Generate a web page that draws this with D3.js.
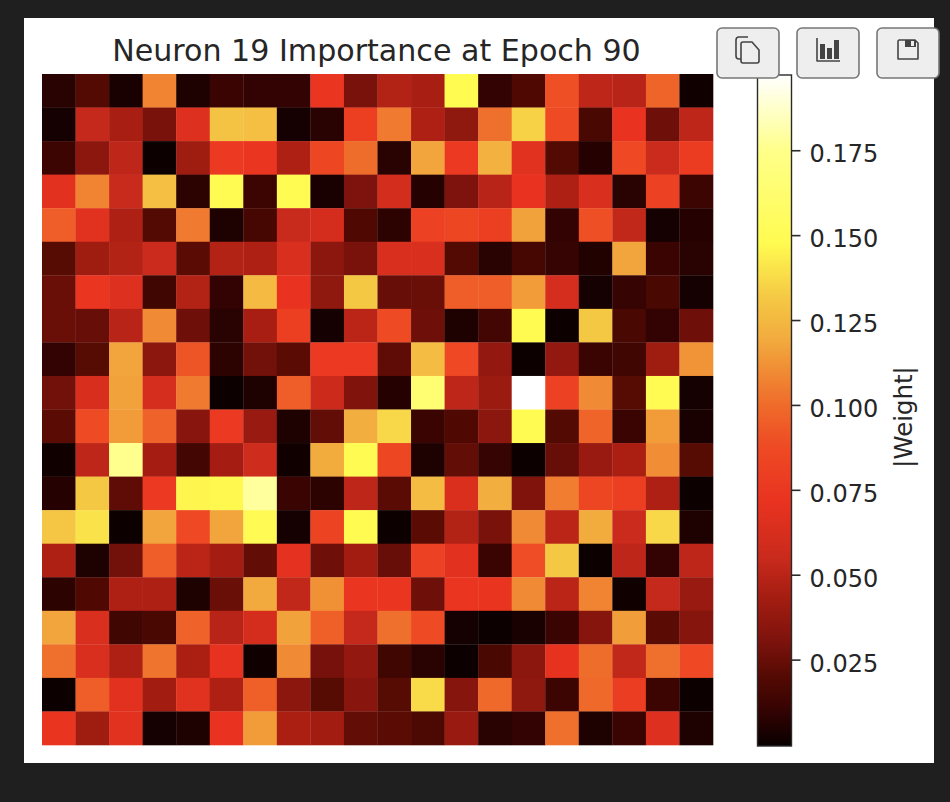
<!DOCTYPE html>
<html>
<head>
<meta charset="utf-8">
<script src="https://cdn.jsdelivr.net/npm/d3@7/dist/d3.min.js"></script>
<style>
html,body{margin:0;padding:0;background:#1f1f1f;overflow:hidden}
svg{display:block}
text{font-family:"DejaVu Sans",sans-serif;fill:#262626}
</style>
</head>
<body>
<svg id="c" width="950" height="802"></svg>
<script>
const chartTitle = "Neuron 19 Importance at Epoch 90";
const colorbarLabel = "|Weight|";
const colorbarTicks = [0.025,0.05,0.075,0.1,0.125,0.15,0.175];
const weightMax = 0.1976;

const row00=[.008,.02,.004,.108,.005,.012,.01,.01,.074,.03,.048,.045,.148,.01,.019,.09,.052,.05,.098,.002];
const row01=[.003,.054,.045,.03,.066,.13,.128,.003,.008,.08,.105,.047,.037,.102,.135,.088,.017,.072,.027,.052];
const row02=[.013,.036,.052,.001,.042,.077,.074,.047,.085,.101,.008,.118,.077,.122,.068,.02,.007,.087,.056,.078];
const row03=[.069,.108,.055,.128,.009,.149,.013,.149,.004,.031,.06,.007,.031,.05,.072,.047,.064,.008,.082,.013];
const row04=[.095,.068,.047,.02,.105,.005,.016,.055,.061,.019,.009,.082,.085,.08,.117,.01,.09,.053,.003,.007];
const row05=[.021,.042,.048,.056,.022,.048,.047,.064,.036,.03,.064,.064,.02,.008,.016,.011,.006,.118,.012,.008];
const row06=[.026,.074,.066,.014,.048,.01,.126,.072,.037,.132,.025,.026,.095,.095,.115,.062,.003,.011,.017,.003];
const row07=[.026,.025,.05,.11,.027,.008,.045,.08,.003,.051,.088,.027,.005,.015,.148,.001,.132,.017,.01,.027];
const row08=[.01,.021,.118,.036,.092,.009,.028,.022,.077,.077,.023,.127,.087,.038,.001,.038,.012,.014,.042,.113];
const row09=[.028,.063,.117,.062,.105,.001,.005,.095,.057,.032,.007,.164,.052,.041,.1976,.082,.11,.021,.149,.003];
const row10=[.022,.088,.115,.097,.035,.077,.04,.005,.024,.121,.137,.012,.019,.036,.149,.02,.098,.012,.115,.004];
const row11=[.002,.052,.176,.044,.015,.044,.058,.002,.12,.149,.085,.005,.024,.011,.001,.025,.04,.046,.111,.021];
const row12=[.007,.132,.023,.077,.146,.147,.179,.012,.009,.052,.022,.127,.065,.121,.032,.106,.085,.08,.047,.001];
const row13=[.131,.14,.001,.118,.087,.118,.15,.003,.083,.148,.001,.022,.048,.03,.11,.051,.12,.056,.137,.005];
const row14=[.047,.005,.028,.095,.051,.044,.024,.07,.027,.043,.025,.082,.069,.012,.089,.132,.001,.052,.01,.052];
const row15=[.009,.019,.047,.047,.005,.026,.119,.053,.112,.074,.074,.027,.074,.073,.11,.051,.108,.002,.054,.04];
const row16=[.118,.064,.014,.017,.097,.05,.061,.117,.096,.054,.102,.088,.003,.001,.004,.012,.034,.116,.022,.034];
const row17=[.102,.064,.047,.103,.046,.071,.002,.11,.029,.038,.014,.008,.001,.017,.036,.071,.101,.053,.102,.087];
const row18=[.001,.095,.069,.043,.068,.047,.096,.036,.021,.035,.021,.138,.034,.1,.037,.013,.1,.079,.013,.001];
const row19=[.073,.042,.068,.003,.005,.072,.115,.046,.043,.024,.022,.018,.04,.008,.01,.102,.005,.012,.066,.005];
const weights=[row00,row01,row02,row03,row04,row05,row06,row07,row08,row09,row10,row11,row12,row13,row14,row15,row16,row17,row18,row19];

const colorStopValues=[0,.012,.02,.03,.045,.055,.072,.088,.1,.11,.12,.132,.148,.175,.1976];
const colorStopHex=["#080000","#3a0402","#520a02","#7a120c","#a81e12","#c82a1c","#e93320","#ee4a24","#ef6a2a","#f08a34","#f2ac3e","#f5c844","#fffb50","#ffff88","#ffffff"];

const svg=d3.select("#c");
const color=d3.scaleLinear().domain(colorStopValues).range(colorStopHex).interpolate(d3.interpolateRgb).clamp(true);

// page
svg.append("rect").attr("width",950).attr("height",802).attr("fill","#1f1f1f");
svg.append("rect").attr("x",24).attr("y",18).attr("width",910).attr("height",745).attr("fill","#fff");

// heat map
const plot={l:42,r:713,t:74,b:745};
const x=d3.scaleBand().domain(d3.range(20)).range([plot.l,plot.r]).padding(0);
const y=d3.scaleBand().domain(d3.range(20)).range([plot.t,plot.b]).padding(0);
svg.append("g").selectAll("g").data(weights).join("g").each(function(row,ri){
  d3.select(this).selectAll("rect").data(row).join("rect")
    .attr("x",(d,ci)=>x(ci)).attr("y",y(ri))
    .attr("width",x.bandwidth()+.3).attr("height",y.bandwidth()+.3)
    .attr("fill",d=>color(d));
});

// title
svg.append("text").attr("x",376.5).attr("y",60.5).attr("text-anchor","middle")
  .attr("font-size",30.1).text(chartTitle);

// colorbar
const cb={l:757.5,r:791.5,t:75,b:746};
const cbY=d3.scaleLinear().domain([0,weightMax]).range([cb.b,cb.t]);
const defs=svg.append("defs");
const grad=defs.append("linearGradient").attr("id","cbg").attr("x1",0).attr("x2",0).attr("y1",1).attr("y2",0);
grad.selectAll("stop").data(d3.range(0,1.0001,1/256)).join("stop")
  .attr("offset",d=>d).attr("stop-color",d=>color(d*weightMax));
svg.append("rect").attr("x",cb.l).attr("y",cb.t).attr("width",cb.r-cb.l).attr("height",cb.b-cb.t)
  .attr("fill","url(#cbg)").attr("stroke","#2a2a2a").attr("stroke-width",1.4);

const axis=d3.axisRight(cbY).tickValues(colorbarTicks).tickFormat(d3.format(".3f")).tickSize(9).tickPadding(9);
const ag=svg.append("g").attr("transform",`translate(${cb.r},-1.5)`).call(axis);
ag.select(".domain").remove();
ag.selectAll("line").attr("stroke","#2a2a2a").attr("stroke-width",1.6);
ag.selectAll("text").attr("font-size",24).attr("fill","#262626")
  .attr("font-family",'"DejaVu Sans",sans-serif').attr("dy","0.48em");

svg.append("text").attr("transform","translate(912,417) rotate(-90)")
  .attr("text-anchor","middle").attr("font-size",24.4).text(colorbarLabel);

// toolbar buttons
const buttonLefts=[717,797,877];
const btn=svg.append("g").selectAll("rect").data(buttonLefts).join("rect")
  .attr("x",d=>d).attr("y",28).attr("width",62).attr("height",50).attr("rx",5)
  .attr("fill","#eeeeee").attr("stroke","#777").attr("stroke-width",1.6);
const icon="#444";
const ic=svg.append("g").attr("fill","none").attr("stroke",icon).attr("stroke-width",1.6).attr("stroke-linejoin","round");
ic.append("path").attr("d","M748 37 h-9 a3 3 0 0 0 -3 3 v16 a3 3 0 0 0 3 3 h2");
ic.append("path").attr("d","M743 42 h9 l7 8 v11 a2 2 0 0 1 -2 2 h-14 a2 2 0 0 1 -2 -2 v-17 a2 2 0 0 1 2 -2 z");
ic.append("path").attr("d","M817 38 V61 H840");
const ib=svg.append("g").attr("fill",icon);
ib.append("rect").attr("x",820).attr("y",44).attr("width",5).attr("height",15);
ib.append("rect").attr("x",827).attr("y",48).attr("width",5).attr("height",11);
ib.append("rect").attr("x",834).attr("y",40).attr("width",5).attr("height",19);
ic.append("path").attr("d","M899 40 h16 l3 3 v16 h-20 v-18 z");
ib.append("path").attr("d","M905 40 h11 v7 h-11 z M911 41 v5 h3 v-5 z").attr("fill-rule","evenodd");
</script>
</body>
</html>
